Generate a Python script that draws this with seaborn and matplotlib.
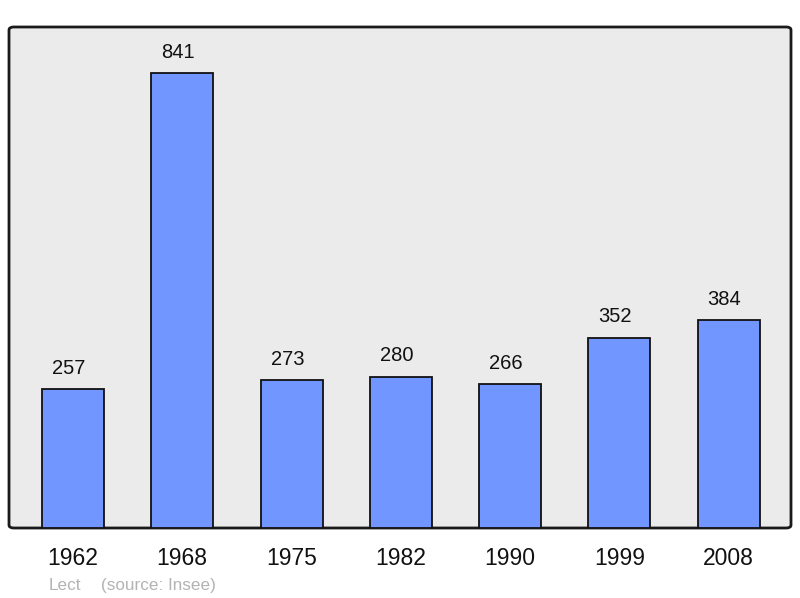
import matplotlib
matplotlib.use("Agg")
import matplotlib.pyplot as plt
from matplotlib.patches import FancyBboxPatch
import pandas as pd
import seaborn as sns

# Population data
years = ["1962", "1968", "1975", "1982", "1990", "1999", "2008"]
population = [257, 841, 273, 280, 266, 352, 384]
commune = "Lect"
source = "(source: Insee)"

df = pd.DataFrame({"year": years, "pop": population})

sns.set_style("white")
plt.rcParams["font.family"] = ["Liberation Sans", "DejaVu Sans"]

fig = plt.figure(figsize=(8, 5.98), dpi=100)
ax = fig.add_axes([9 / 800, 70 / 598, 782 / 800, 501 / 598])
ax.set_facecolor("none")

# rounded frame with grey background
frame = FancyBboxPatch((0, 0), 1, 1, boxstyle="round,pad=0,rounding_size=0.006",
                       transform=ax.transAxes, facecolor="#ebebeb",
                       edgecolor="#1a1a1a", linewidth=2, zorder=0, clip_on=False)
ax.add_patch(frame)

sns.barplot(data=df, x="year", y="pop", color="#7196ff", saturation=1,
            width=0.567, edgecolor="#111111", linewidth=1.3, ax=ax, zorder=2)

labels = ax.bar_label(ax.containers[0], padding=8, fontsize=14.5, color="#111111")
for t in labels:
    t.xyann = (-3, t.xyann[1])

ax.set_xlim(-0.585, 6.57)
ax.set_ylim(0, 926)
for s in ax.spines.values():
    s.set_visible(False)
ax.set_yticks([])
ax.tick_params(axis="x", length=0, pad=13.5, labelsize=16.5, labelcolor="#111111")
ax.set_xlabel("")
ax.set_ylabel("")

fig.text(49 / 800, 1 - 590 / 598, commune, fontsize=12.3, color="#b3b3b3", va="baseline")
fig.text(101 / 800, 1 - 590 / 598, source, fontsize=12.3, color="#b3b3b3", va="baseline")

fig.savefig("out.png", dpi=100)
